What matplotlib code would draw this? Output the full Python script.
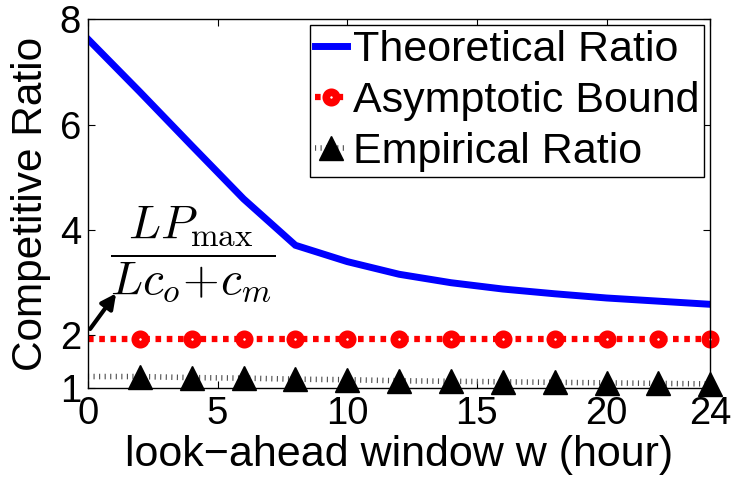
import numpy as np
import matplotlib
matplotlib.use('Agg')
import matplotlib.pyplot as plt

plt.rcParams['font.family'] = ['Liberation Sans', 'DejaVu Sans']
plt.rcParams['mathtext.fontset'] = 'cm'

# Datos
w = [0, 2, 4, 6, 8, 10, 12, 14, 16, 18, 20, 22, 24]
teorico = [7.62, 6.62, 5.60, 4.59, 3.71, 3.40, 3.16, 3.00, 2.88, 2.79, 2.71, 2.65, 2.59]
asintotico = [1.94, 1.94, 1.94, 1.94, 1.94, 1.94, 1.94, 1.94, 1.94, 1.94, 1.94, 1.94, 1.94]
empirico = [1.22, 1.22, 1.20, 1.19, 1.17, 1.16, 1.14, 1.13, 1.12, 1.11, 1.10, 1.09, 1.08]

xticks = [0, 5, 10, 15, 20, 24]
yticks = [1, 2, 4, 6, 8]

fig = plt.figure(figsize=(7.33, 4.78), dpi=100)
ax = fig.add_axes([0.120, 0.188, 0.849, 0.772])

ax.plot(w, teorico, color='blue', lw=5, label='Theoretical Ratio', solid_joinstyle='miter')
ax.plot(w, asintotico, color='red', lw=4.5, linestyle=(0, (0.9, 0.9)), dash_capstyle='butt',
        marker='o', ms=7.5, mfc='white', mec='red', mew=5.5, markevery=slice(1, None),
        clip_on=False, label='Asymptotic Bound')
ax.plot(w, empirico, color='0.3', lw=4, linestyle=(0, (0.2, 0.8)), dash_capstyle='butt',
        marker='^', ms=17, mfc='black', mec='black', markevery=slice(1, None),
        clip_on=False, label='Empirical Ratio')

# Anotacion con la formula
ax.annotate('', xy=(1.15, 2.84), xytext=(0.02, 2.08),
            arrowprops=dict(arrowstyle='-|>', color='black', lw=3, mutation_scale=22))
ax.text(0.85, 3.55, r'$\dfrac{LP_{\max}}{Lc_o\!+\!c_m}$', fontsize=34, ha='left', va='center')

ax.set_xlim(0, 24)
ax.set_ylim(1, 8)
ax.set_xticks(xticks)
ax.set_yticks(yticks)
ax.tick_params(direction='in', length=5, width=0.8, labelsize=27.5, top=True, right=True)
ax.tick_params(axis='x', pad=6)
ax.tick_params(axis='y', pad=5)
for s in ax.spines.values():
    s.set_linewidth(1)

ax.set_xlabel('look\u2212ahead window w (hour)', fontsize=31, labelpad=2)
ax.set_ylabel('Competitive Ratio', fontsize=30.5, labelpad=6)

leg = ax.legend(loc='upper right', fontsize=31, handlelength=0.75, handletextpad=0.12,
                borderaxespad=0.14, borderpad=0.12, labelspacing=0.25, fancybox=False,
                edgecolor='black', framealpha=1)
leg.get_frame().set_linewidth(1)

fig.savefig('out.png', dpi=100)
